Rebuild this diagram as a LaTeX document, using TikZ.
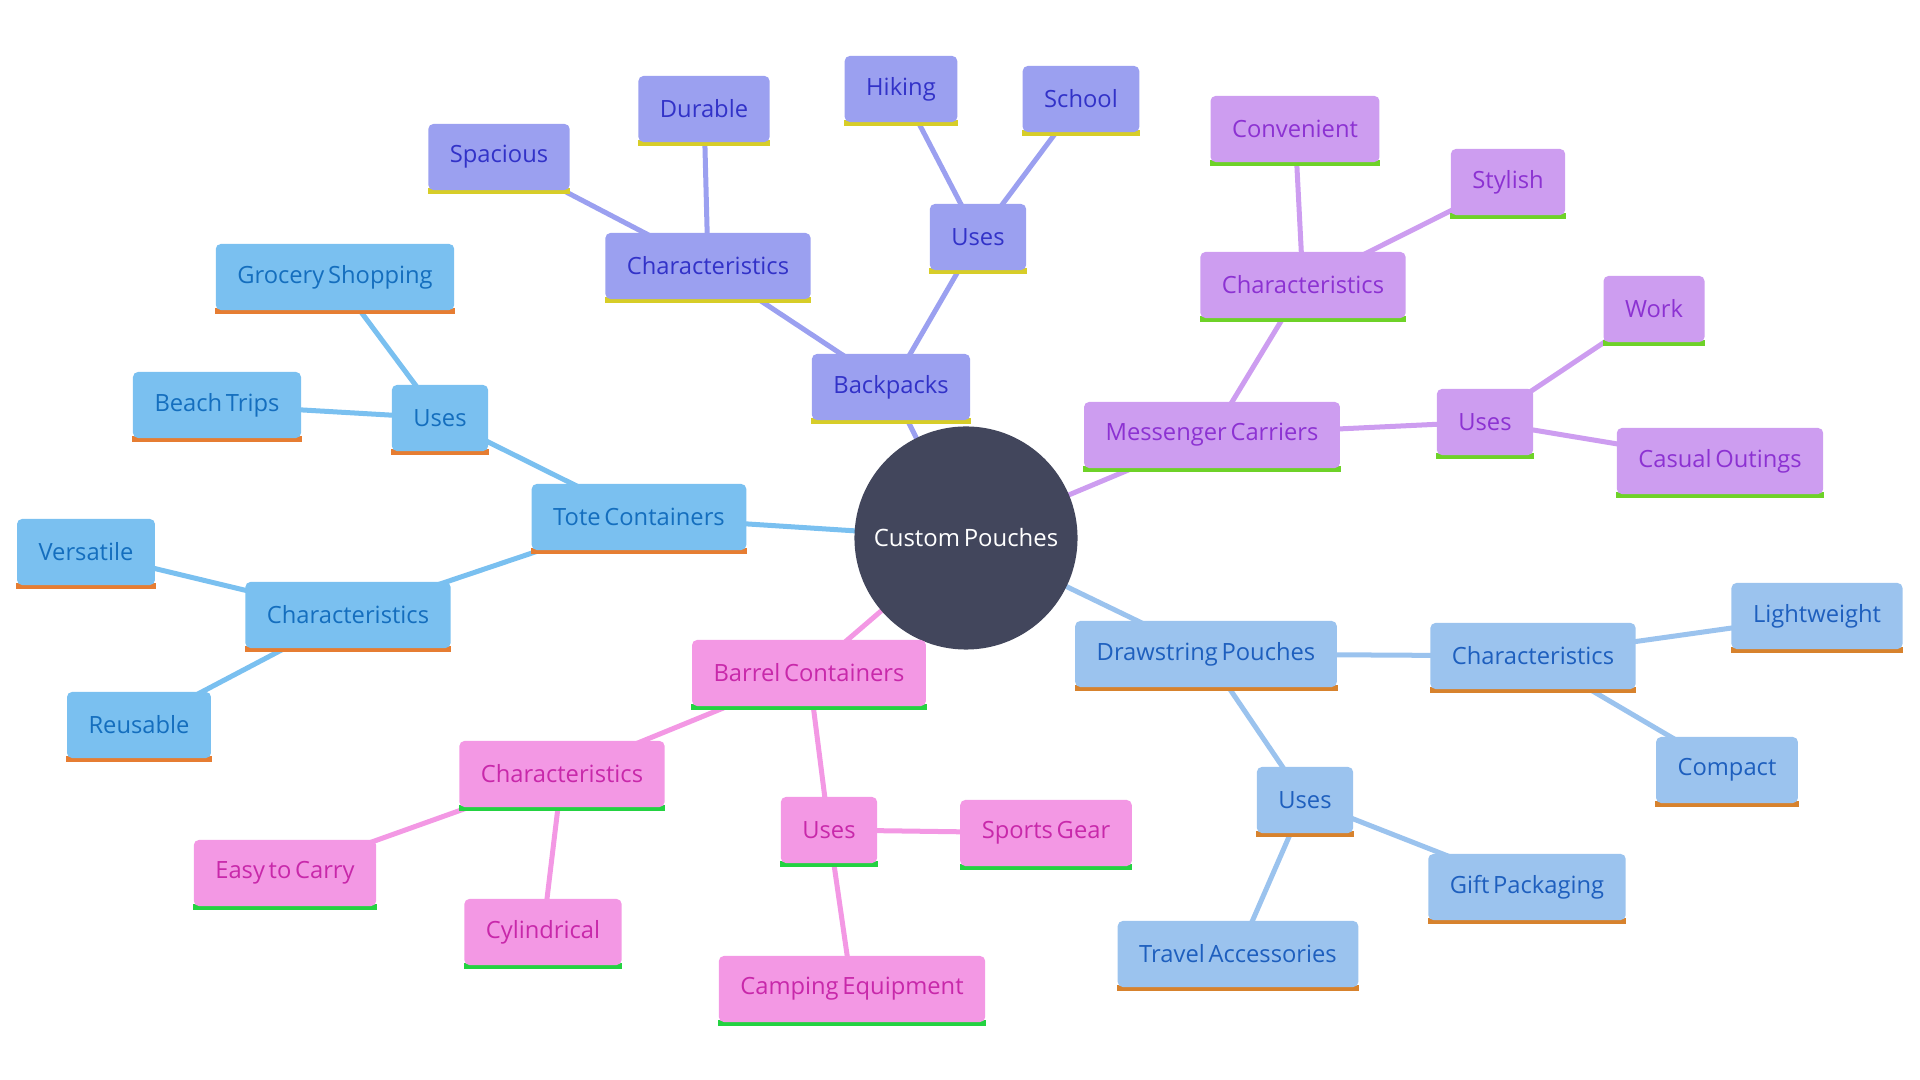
\documentclass[tikz,border=0pt]{standalone}
\usepackage{fontspec}
\setmainfont[WordSpace=0.6]{Open Sans}
\usetikzlibrary{backgrounds}
\definecolor{rootfill}{HTML}{42465C}
\definecolor{bpfill}{HTML}{9BA0F0}
\definecolor{bptext}{HTML}{3232C8}
\definecolor{bpbar}{HTML}{D7CD28}
\definecolor{mcfill}{HTML}{CD9DF0}
\definecolor{mctext}{HTML}{8C32D2}
\definecolor{mcbar}{HTML}{6ED228}
\definecolor{tcfill}{HTML}{7AC0F0}
\definecolor{tctext}{HTML}{146EBE}
\definecolor{tcbar}{HTML}{E67D32}
\definecolor{bcfill}{HTML}{F398E4}
\definecolor{bctext}{HTML}{C828AA}
\definecolor{bcbar}{HTML}{23D241}
\definecolor{dpfill}{HTML}{9BC3EE}
\definecolor{dptext}{HTML}{1E5FBE}
\definecolor{dpbar}{HTML}{D7822D}

\tikzset{
  box/.style={rectangle, rounded corners=0.05cm, minimum height=0.66cm,
    inner xsep=0.215cm, font=\fontsize{6.75}{8}\selectfont},
  bar/.style={append after command={\pgfextra{
    \fill[#1] ([yshift=0.03cm]\tikzlastnode.south west) rectangle
      ([yshift=-0.03cm]\tikzlastnode.south east);}}},
  bpbox/.style={box, fill=bpfill, text=bptext, bar=bpbar},
  mcbox/.style={box, fill=mcfill, text=mctext, bar=mcbar},
  tcbox/.style={box, fill=tcfill, text=tctext, bar=tcbar},
  bcbox/.style={box, fill=bcfill, text=bctext, bar=bcbar},
  dpbox/.style={box, fill=dpfill, text=dptext, bar=dpbar},
  link/.style={line width=0.05cm},
}

\begin{document}
\begin{tikzpicture}[x=0.01cm, y=-0.01cm]
  \useasboundingbox (0, 0) rectangle (1920, 1080);

  % centre
  \node [circle, fill=rootfill, text=white, minimum size=2.23cm, inner sep=0pt,
    font=\fontsize{6.8}{8}\selectfont] (root) at (966, 538) {Custom Pouches};

  % backpacks
  \node [bpbox] (bp) at (891, 387) {Backpacks};
  \node [bpbox] (bpchar) at (708, 266) {Characteristics};
  \node [bpbox] (bpspa) at (499, 157) {Spacious};
  \node [bpbox] (bpdur) at (704, 109) {Durable};
  \node [bpbox] (bpuses) at (978, 237) {Uses};
  \node [bpbox] (bphik) at (901, 89) {Hiking};
  \node [bpbox] (bpsch) at (1081, 99) {School};

  % messenger carriers
  \node [mcbox] (mc) at (1212, 435) {Messenger Carriers};
  \node [mcbox] (mcchar) at (1303, 285) {Characteristics};
  \node [mcbox] (mccon) at (1295, 129) {Convenient};
  \node [mcbox] (mcsty) at (1508, 182) {Stylish};
  \node [mcbox] (mcuses) at (1485, 422) {Uses};
  \node [mcbox] (mcwork) at (1654, 309) {Work};
  \node [mcbox] (mccas) at (1720, 461) {Casual Outings};

  % tote containers
  \node [tcbox] (tc) at (639, 517) {Tote Containers};
  \node [tcbox] (tcuses) at (440, 418) {Uses};
  \node [tcbox] (tcgro) at (335, 277) {Grocery Shopping};
  \node [tcbox] (tcbea) at (217, 405) {Beach Trips};
  \node [tcbox] (tcchar) at (348, 615) {Characteristics};
  \node [tcbox] (tcver) at (86, 552) {Versatile};
  \node [tcbox] (tcreu) at (139, 725) {Reusable};

  % barrel containers
  \node [bcbox] (bc) at (809, 673) {Barrel Containers};
  \node [bcbox] (bcchar) at (562, 774) {Characteristics};
  \node [bcbox] (bccyl) at (543, 932) {Cylindrical};
  \node [bcbox] (bceasy) at (285, 873) {Easy to Carry};
  \node [bcbox] (bcuses) at (829, 830) {Uses};
  \node [bcbox] (bcspo) at (1046, 833) {Sports Gear};
  \node [bcbox] (bccam) at (852, 989) {Camping Equipment};

  % drawstring pouches
  \node [dpbox] (dp) at (1206, 654) {Drawstring Pouches};
  \node [dpbox] (dpchar) at (1533, 656) {Characteristics};
  \node [dpbox] (dplight) at (1817, 616) {Lightweight};
  \node [dpbox] (dpcomp) at (1727, 770) {Compact};
  \node [dpbox] (dpuses) at (1305, 800) {Uses};
  \node [dpbox] (dpgift) at (1527, 887) {Gift Packaging};
  \node [dpbox] (dptrav) at (1238, 954) {Travel Accessories};

  \begin{scope}[on background layer]
    \draw [link, bpfill] (root.center) -- (bp.center);
    \draw [link, bpfill] (bp.center) -- (bpchar.center);
    \draw [link, bpfill] (bpchar.center) -- (bpspa.center);
    \draw [link, bpfill] (bpchar.center) -- (bpdur.center);
    \draw [link, bpfill] (bp.center) -- (bpuses.center);
    \draw [link, bpfill] (bpuses.center) -- (bphik.center);
    \draw [link, bpfill] (bpuses.center) -- (bpsch.center);

    \draw [link, mcfill] (root.center) -- (mc.center);
    \draw [link, mcfill] (mc.center) -- (mcchar.center);
    \draw [link, mcfill] (mcchar.center) -- (mccon.center);
    \draw [link, mcfill] (mcchar.center) -- (mcsty.center);
    \draw [link, mcfill] (mc.center) -- (mcuses.center);
    \draw [link, mcfill] (mcuses.center) -- (mcwork.center);
    \draw [link, mcfill] (mcuses.center) -- (mccas.center);

    \draw [link, tcfill] (root.center) -- (tc.center);
    \draw [link, tcfill] (tc.center) -- (tcuses.center);
    \draw [link, tcfill] (tcuses.center) -- (tcgro.center);
    \draw [link, tcfill] (tcuses.center) -- (tcbea.center);
    \draw [link, tcfill] (tc.center) -- (tcchar.center);
    \draw [link, tcfill] (tcchar.center) -- (tcver.center);
    \draw [link, tcfill] (tcchar.center) -- (tcreu.center);

    \draw [link, bcfill] (root.center) -- (bc.center);
    \draw [link, bcfill] (bc.center) -- (bcchar.center);
    \draw [link, bcfill] (bcchar.center) -- (bccyl.center);
    \draw [link, bcfill] (bcchar.center) -- (bceasy.center);
    \draw [link, bcfill] (bc.center) -- (bcuses.center);
    \draw [link, bcfill] (bcuses.center) -- (bcspo.center);
    \draw [link, bcfill] (bcuses.center) -- (bccam.center);

    \draw [link, dpfill] (root.center) -- (dp.center);
    \draw [link, dpfill] (dp.center) -- (dpchar.center);
    \draw [link, dpfill] (dpchar.center) -- (dplight.center);
    \draw [link, dpfill] (dpchar.center) -- (dpcomp.center);
    \draw [link, dpfill] (dp.center) -- (dpuses.center);
    \draw [link, dpfill] (dpuses.center) -- (dpgift.center);
    \draw [link, dpfill] (dpuses.center) -- (dptrav.center);
  \end{scope}
\end{tikzpicture}
\end{document}
